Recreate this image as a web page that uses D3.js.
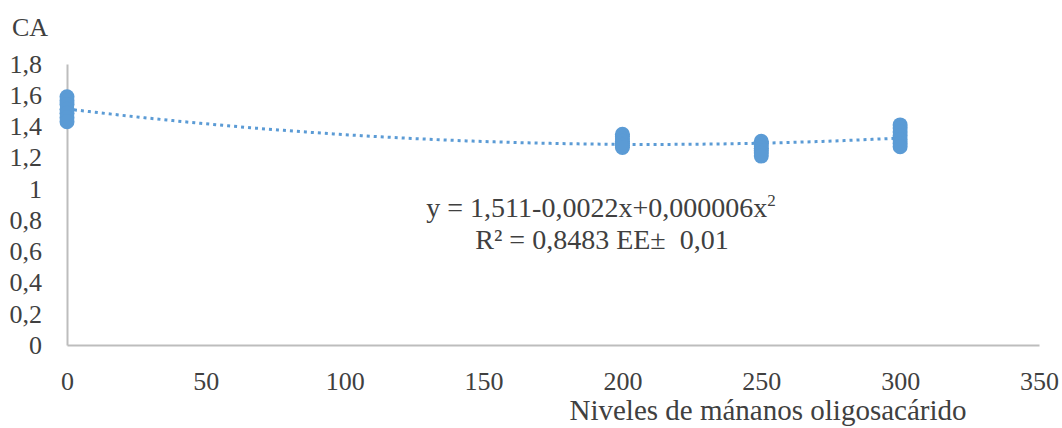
<!DOCTYPE html>
<html>
<head>
<meta charset="utf-8">
<script src="https://cdn.jsdelivr.net/npm/d3@7"></script>
<style>
  body { margin: 0; background: #fff; }
  svg { display: block; }
  text { font-family: "Liberation Serif", "Times New Roman", serif; fill: #404040; }
</style>
</head>
<body>
<svg id="chart" width="1062" height="428"></svg>
<script>
// levels of mannan oligosaccharide and replicate CA values
const levels = [0, 200, 250, 300];
const replicates = [
  [1.59, 1.565, 1.54, 1.51, 1.485, 1.455, 1.43],
  [1.35, 1.335, 1.32, 1.305, 1.29, 1.28, 1.265],
  [1.305, 1.29, 1.275, 1.26, 1.245, 1.23, 1.21],
  [1.41, 1.39, 1.365, 1.34, 1.315, 1.29, 1.27]
];
const xTicks = [0, 50, 100, 150, 200, 250, 300, 350];
const yTicks = [0, 0.2, 0.4, 0.6, 0.8, 1, 1.2, 1.4, 1.6, 1.8];
const eqLine1 = ['y = 1,511-0,0022x+0,000006x', '2'];
const eqLine2 = 'R² = 0,8483 EE±\u00a0 0,01';
const yTitle = 'CA';
const xTitle = 'Niveles de mánanos oligosacárido';

const blue = '#5b9bd5';
const svg = d3.select('#chart');
const x = d3.scaleLinear().domain([0, 350]).range([67, 1039]);
const y = d3.scaleLinear().domain([0, 1.8]).range([345, 64]);
const fmt = d3.formatLocale({ decimal: ',', thousands: '.', grouping: [3] }).format('~g');

// axes: gray lines, no ticks
const axisColor = '#bdbdbd';
const gx = svg.append('g').attr('transform', `translate(0,${y(0)})`)
  .call(d3.axisBottom(x).tickValues(xTicks).tickSize(0).tickPadding(37).tickFormat(d => d));
const gy = svg.append('g').attr('transform', `translate(${x(0)},0)`)
  .call(d3.axisLeft(y).tickValues(yTicks).tickSize(0).tickPadding(25).tickFormat(d => fmt(d)));
[gx, gy].forEach(g => {
  g.select('.domain').attr('stroke', axisColor).attr('stroke-width', 2);
  g.selectAll('text').attr('font-size', 26).attr('fill', '#404040');
});
gx.selectAll('text').attr('dy', '0.32em');

// quadratic least squares trend through all replicate points
const pts = levels.flatMap((lv, i) => replicates[i].map(v => [lv, v]));
function quadFit(points) {
  const S = [0, 0, 0, 0, 0], T = [0, 0, 0];
  points.forEach(([px, py]) => {
    for (let k = 0; k < 5; k++) S[k] += Math.pow(px, k);
    for (let k = 0; k < 3; k++) T[k] += py * Math.pow(px, k);
  });
  const A = [[S[0], S[1], S[2], T[0]], [S[1], S[2], S[3], T[1]], [S[2], S[3], S[4], T[2]]];
  for (let i = 0; i < 3; i++) {
    for (let j = i + 1; j < 3; j++) {
      const f = A[j][i] / A[i][i];
      for (let k = i; k < 4; k++) A[j][k] -= f * A[i][k];
    }
  }
  const c = [0, 0, 0];
  for (let i = 2; i >= 0; i--) {
    let s = A[i][3];
    for (let k = i + 1; k < 3; k++) s -= A[i][k] * c[k];
    c[i] = s / A[i][i];
  }
  return c;
}
const coef = quadFit(pts);
const trend = d3.range(0, 300.5, 2).map(v => [v, coef[0] + coef[1] * v + coef[2] * v * v]);
svg.append('path')
  .datum(trend)
  .attr('fill', 'none')
  .attr('stroke', blue)
  .attr('stroke-width', 3)
  .attr('stroke-dasharray', '3,4')
  .attr('d', d3.line().x(d => x(d[0])).y(d => y(d[1])));

// markers
svg.append('g').selectAll('circle').data(pts).enter().append('circle')
  .attr('cx', d => x(d[0]))
  .attr('cy', d => y(d[1]))
  .attr('r', 7.5)
  .attr('fill', blue);

// titles
svg.append('text').attr('x', 12).attr('y', 36).attr('font-size', 26).text(yTitle);
svg.append('text').attr('x', 768).attr('y', 420).attr('text-anchor', 'middle')
  .attr('font-size', 29).text(xTitle);

// equation
const eq = svg.append('text').attr('x', 601).attr('y', 217).attr('text-anchor', 'middle').attr('font-size', 28);
eq.append('tspan').text(eqLine1[0]);
eq.append('tspan').attr('font-size', 17).attr('dy', -11).text(eqLine1[1]);
svg.append('text').attr('x', 602).attr('y', 249).attr('text-anchor', 'middle').attr('font-size', 28).text(eqLine2);
</script>
</body>
</html>
